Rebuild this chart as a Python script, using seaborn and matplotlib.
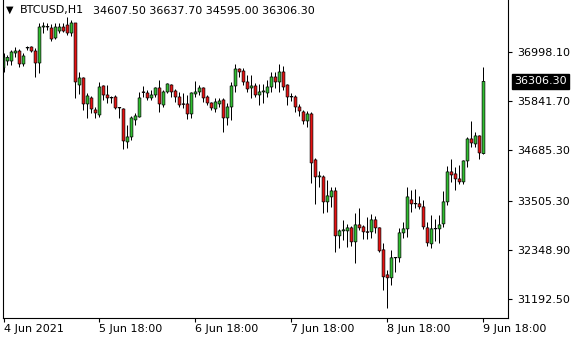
import numpy as np
import pandas as pd
import matplotlib
matplotlib.use("Agg")
import matplotlib.pyplot as plt
import matplotlib.transforms as mtransforms
import seaborn as sns

# ---------------- data (BTCUSD, H1) ----------------
symbol = "BTCUSD,H1"

opens = [36622, 36786, 36786, 36974, 37021, 36716, 37092, 37115, 37021, 36739,
         37585, 37597, 37562, 37327, 37491, 37585, 37632, 37444, 37680, 36222,
         36387, 35776, 35917, 35635, 35517, 36199, 35987, 35929, 35940, 35682,
         35658, 34883, 35000, 35400, 35470, 36058, 36034, 35917, 35987, 36152,
         35752, 36058, 36222, 36081, 35940, 35776, 35776, 35541, 36011, 36058,
         36152, 35940, 35799, 35658, 35776, 35870, 35447, 35705, 36199, 36598,
         36551, 36293, 36152, 36199, 35987, 36058, 36034, 36175, 36410, 36293,
         36528, 36222, 35940, 35940, 35705, 35588, 35376, 35541, 34460, 34060,
         34060, 33473, 33590, 33731, 32674, 32791, 32791, 32862, 32533, 32932,
         32885, 32768, 32768, 33050, 32862, 32345, 31757, 31687, 32157, 32157,
         32744, 32838, 33520, 33426, 33426, 33355, 32862, 32486, 32838, 32838,
         32956, 33473, 34178, 34131, 34013, 33943, 34436, 34953, 34836, 35024,
         34607.50]

highs = [36974, 36927, 37045, 37115, 37068, 36974, 37139, 37139, 37092, 37680,
         37703, 37680, 37656, 37680, 37680, 37680, 37820, 37750, 37691, 36528,
         36410, 36034, 35964, 35705, 36293, 36222, 36222, 35964, 35987, 35705,
         35682, 35282, 35494, 35564, 36058, 36199, 36105, 36105, 36175, 36340,
         36105, 36269, 36246, 36128, 36058, 36034, 35987, 36058, 36316, 36222,
         36175, 35987, 35823, 35917, 35917, 35917, 35799, 36293, 36716, 36622,
         36622, 36457, 36457, 36269, 36246, 36246, 36340, 36528, 36528, 36716,
         36669, 36246, 36034, 35987, 35776, 35635, 35611, 35588, 34507, 34201,
         34107, 33990, 33825, 33825, 32838, 33050, 32956, 32909, 33214, 33332,
         32932, 33120, 33191, 33144, 32885, 32509, 31875, 32345, 32180, 32862,
         33003, 33825, 33755, 33778, 33614, 33520, 33003, 33167, 33073, 33167,
         33731, 34319, 34483, 34295, 34342, 34460, 35000, 35376, 35118, 35047,
         36637.70]

lows = [36528, 36692, 36692, 36880, 36645, 36669, 37045, 36998, 36410, 36504,
        37444, 37515, 37256, 37303, 37444, 37468, 37397, 37374, 35917, 36011,
        35635, 35447, 35564, 35447, 35470, 35870, 35799, 35799, 35658, 35447,
        34718, 34742, 34930, 35282, 35470, 35940, 35870, 35870, 35940, 35588,
        35705, 36034, 35940, 35823, 35705, 35682, 35423, 35447, 35940, 35987,
        35823, 35752, 35635, 35588, 35705, 35118, 35282, 35400, 36058, 36410,
        36222, 36058, 35917, 35940, 35752, 35799, 35940, 36058, 36152, 36058,
        36105, 35752, 35846, 35588, 35494, 35306, 35235, 33919, 33426, 33825,
        33214, 33238, 33355, 32298, 32392, 32580, 32415, 32439, 32039, 32815,
        32603, 32603, 32627, 32744, 32298, 31405, 30982, 31522, 31828, 32063,
        32627, 32650, 33238, 33332, 33308, 32838, 32439, 32392, 32556, 32509,
        32885, 33402, 33943, 33755, 33896, 33896, 34295, 34765, 34765, 34483,
        34595.00]

closes = [36880, 36869, 36998, 37021, 36716, 36904, 37104, 37021, 36739, 37585,
          37609, 37585, 37303, 37585, 37585, 37491, 37444, 37680, 36293, 36387,
          35776, 35964, 35658, 35564, 36175, 35987, 35917, 35917, 35682, 35690,
          34906, 35000, 35447, 35494, 35917, 36050, 35917, 35987, 36152, 35776,
          36058, 36246, 36058, 35940, 35752, 35770, 35541, 36034, 36058, 36152,
          35917, 35799, 35682, 35823, 35846, 35447, 35705, 36199, 36598, 36528,
          36293, 36128, 36199, 35987, 36058, 36081, 36175, 36410, 36293, 36528,
          36175, 35940, 35952, 35705, 35611, 35376, 35541, 34389, 34060, 34083,
          33473, 33614, 33731, 32674, 32791, 32815, 32862, 32533, 32932, 32862,
          32768, 32760, 33050, 32862, 32321, 31710, 31687, 32157, 32168, 32744,
          32838, 33590, 33426, 33438, 33355, 32885, 32509, 32838, 32850, 32932,
          33473, 34178, 34107, 34013, 33943, 34436, 34953, 34859, 35024, 34624,
          36306.30]

price_ticks = [36998.10, 35841.70, 34685.30, 33505.30, 32348.90, 31192.50]
time_tick_bars = [0, 24, 48, 72, 96, 120]
time_tick_labels = ["4 Jun 2021", "5 Jun 18:00", "6 Jun 18:00",
                    "7 Jun 18:00", "8 Jun 18:00", "9 Jun 18:00"]

# ---------------- style ----------------
sns.set_style("white")
plt.rcParams["font.family"] = ["DejaVu Sans"]
plt.rcParams["axes.edgecolor"] = "black"

BULL = "#2fbf2f"
BEAR = "#e81010"

df = pd.DataFrame({"bar": np.arange(len(opens)), "open": opens, "high": highs,
                   "low": lows, "close": closes})
df["up"] = df["close"] >= df["open"]
df["body_lo"] = df[["open", "close"]].min(axis=1)
df["body_h"] = (df["close"] - df["open"]).abs()

W, H = 580, 340
fig = plt.figure(figsize=(W / 100, H / 100), dpi=100)
L_PX, R_PX, B_PX = 2.5, 508.5, 317.5
ax = fig.add_axes([L_PX / W, (H - B_PX) / H, (R_PX - L_PX) / W, B_PX / H])

# wicks
ax.vlines(df["bar"], df["low"], df["high"], color="black", linewidth=0.72,
          zorder=1)
# bodies
ax.bar(df["bar"], df["body_h"], bottom=df["body_lo"], width=0.7,
       color=np.where(df["up"], BULL, BEAR), edgecolor="black",
       linewidth=0.5, snap=False, zorder=2)

# candle 0 centred on pixel 3.5, 4 px per bar
ax.set_xlim(-0.25, 126.25)
ax.set_ylim(30754.2, 38220.1)

for s in ["left", "bottom", "right"]:
    ax.spines[s].set_visible(True)
    ax.spines[s].set_color("black")
    ax.spines[s].set_linewidth(0.8)
ax.spines["top"].set_visible(False)

ax.yaxis.tick_right()
ax.set_yticks(price_ticks)
ax.set_yticklabels([f"{v:.2f}" for v in price_ticks])
ax.tick_params(axis="y", which="both", right=True, left=False, direction="out",
               length=3, width=0.8, pad=3, labelsize=8, colors="black")

ax.set_xticks(time_tick_bars)
ax.set_xticklabels(time_tick_labels, ha="left")
ax.tick_params(axis="x", bottom=True, direction="out", length=3, width=0.8,
               pad=1.5, labelsize=8, colors="black")
ax.grid(False)

# header
fig.text(6 / W, 1 - 10 / H, "\u25BC", fontsize=7, va="center", ha="left", color="black")
fig.text(20 / W, 1 - 10.5 / H, symbol, fontsize=8, va="center", ha="left", color="black")
hdr = f"{opens[-1]:.2f} {highs[-1]:.2f} {lows[-1]:.2f} {closes[-1]:.2f}"
fig.text(93 / W, 1 - 10.5 / H, hdr, fontsize=8, va="center", ha="left", color="black")

# current price label
trans = mtransforms.blended_transform_factory(fig.transFigure, ax.transData)
ax.text(514 / W, closes[-1], f"{closes[-1]:.2f}", transform=trans, fontsize=8,
        color="white", va="center", ha="left", clip_on=False,
        bbox=dict(boxstyle="square,pad=0.22", facecolor="black", edgecolor="black"))

fig.savefig("out.png", dpi=100)
